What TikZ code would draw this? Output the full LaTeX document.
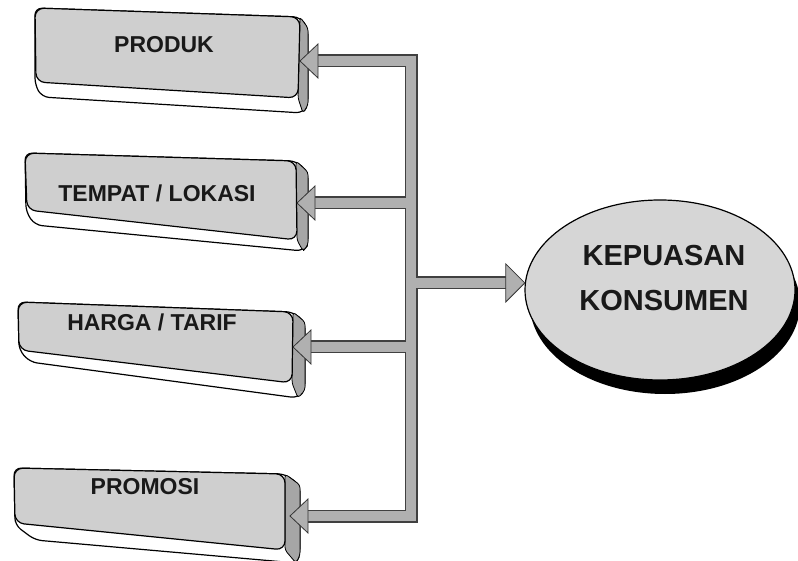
\documentclass[tikz,border=0pt]{standalone}
\usepackage{fontspec}
\setmainfont{Liberation Sans}
\usetikzlibrary{shapes.geometric,shadows,calc}

\tikzset{
  solid/.style={fill=white, draw=black, line width=1.2pt, rounded corners=7pt, line join=round},
  sideface/.style={fill=gray!70, draw=black, line width=0.8pt, rounded corners=3pt},
  topface/.style={fill=gray!38, draw=black, line width=1.2pt, rounded corners=9pt},
  boxlabel/.style={font=\fontsize{23}{28}\selectfont\bfseries, text=black!90},
  barouter/.style={draw=black!75, line width=13pt, line join=miter, line cap=butt},
  barinner/.style={draw=gray!62, line width=10.5pt, line join=miter, line cap=butt},
  headfill/.style={fill=gray!62, draw=black!80, line width=0.8pt, line join=miter},
  goal/.style={ellipse, draw=black, line width=1.2pt, fill=gray!32,
    minimum width=270pt, minimum height=180pt,
    drop shadow={shadow xshift=5pt, shadow yshift=-14pt, fill=black, opacity=1}},
  goallabel/.style={font=\fontsize{29}{45}\selectfont\bfseries, align=center, text=black!90}
}

\begin{document}
\begin{tikzpicture}[x=1pt,y=-1pt]
\useasboundingbox (0,0) rectangle (798,561);

% ---- box: PRODUK
\draw[solid] (35,8) -- (300,17) -- (308,28) -- (308,105) -- (303,113) -- (42,97) -- (35,85) -- cycle;
\draw[sideface] (300,17) -- (308,28) -- (308,105) -- (303,113) -- (298,98) -- cycle;
\draw[topface] (35,8) -- (300,17) -- (298,98) -- (36,82) -- cycle;
\node[boxlabel] (produk) at (164,45) {PRODUK};
\coordinate (produkIn) at (300,61);

% ---- box: TEMPAT / LOKASI
\draw[solid] (25,153) -- (296,161) -- (308,172) -- (308,245) -- (303,251) -- (35,225) -- (26,212) -- cycle;
\draw[sideface] (296,161) -- (308,172) -- (308,245) -- (303,251) -- (297,240) -- cycle;
\draw[topface] (25,153) -- (296,161) -- (297,240) -- (27,210) -- cycle;
\node[boxlabel] (tempat) at (157,193) {TEMPAT / LOKASI};
\coordinate (tempatIn) at (297,203);

% ---- box: HARGA / TARIF
\draw[solid] (18,302) -- (293,312) -- (305,322) -- (305,390) -- (298,398) -- (30,362) -- (19,350) -- cycle;
\draw[sideface] (293,312) -- (305,322) -- (305,390) -- (298,398) -- (292,383) -- cycle;
\draw[topface] (18,302) -- (293,312) -- (292,383) -- (19,350) -- cycle;
\node[boxlabel] (harga) at (152,322) {HARGA / TARIF};
\coordinate (hargaIn) at (293,347);

% ---- box: PROMOSI
\draw[solid] (14,468) -- (285,474) -- (300,485) -- (300,555) -- (296,563) -- (35,540) -- (15,525) -- cycle;
\draw[sideface] (285,474) -- (300,485) -- (300,555) -- (296,563) -- (285,550) -- cycle;
\draw[topface] (14,468) -- (285,474) -- (285,550) -- (15,523) -- cycle;
\node[boxlabel] (promosi) at (145,487) {PROMOSI};
\coordinate (promosiIn) at (290,516);

% ---- target ellipse
\node[goal] (kepuasan) at (660,290) {};
\node[goallabel] (kepuasanText) at (664,278) {KEPUASAN\\KONSUMEN};
\coordinate (goalIn) at (kepuasan.177);

% ---- spine of the connector tree
\coordinate (spineTop) at (411,61);
\coordinate (spineBot) at (411,516);

% thick bars: dark border first, grey core second so joints merge
\foreach \layer in {barouter,barinner}{
  \draw[\layer] ($(produkIn)+(16,0)$) -- (spineTop) -- (spineBot) -- ($(promosiIn)+(16,0)$);
  \draw[\layer] ($(tempatIn)+(16,0)$) -- (tempatIn -| spineTop);
  \draw[\layer] ($(hargaIn)+(16,0)$) -- (hargaIn -| spineTop);
  \draw[\layer] (goalIn -| spineTop) -- ($(goalIn)+(-18,0)$);
}

% arrowheads pointing into the boxes
\foreach \tip in {produkIn,tempatIn,hargaIn,promosiIn}{
  \draw[headfill] (\tip) -- ++(18,-17) -- ++(0,34) -- cycle;
}
% arrowhead into the ellipse
\draw[headfill] (goalIn) -- ++(-19,-19) -- ++(0,38) -- cycle;
\end{tikzpicture}
\end{document}
